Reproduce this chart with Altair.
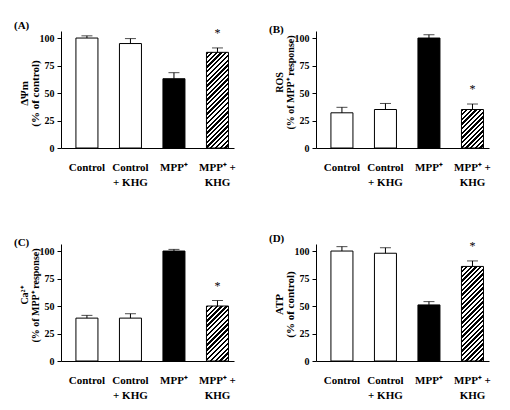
import altair as alt
import pandas as pd

# ---- data ----
categories = ["Control", "Control|+ KHG", "MPP\u207a", "MPP\u207a +|KHG"]
fills = ["white", "white", "black", "hatch"]
significant = [False, False, False, True]

A_mean = [100, 95, 63, 87]
A_sem = [2, 4.5, 5.5, 4]
B_mean = [32, 35, 100, 35]
B_sem = [5, 5.5, 3, 5]
C_mean = [39, 39, 100, 50]
C_sem = [2.5, 4, 1.5, 5]
D_mean = [100, 98, 51, 86]
D_sem = [4, 5, 3, 5]

panel_letters = ["(A)", "(B)", "(C)", "(D)"]
panel_titles = [
    ["\u0394\u03a8m", "(% of control)"],
    ["ROS", "(% of MPP\u207a response)"],
    ["Ca\u00b2\u207a", "(% of MPP\u207a response)"],
    ["ATP", "(% of control)"],
]
y_ticks = [0, 25, 50, 75, 100]

# ---- style ----
FONT = "Liberation Serif"
W, H = 173, 117
YMAX = 106.4
P_INNER, P_OUTER, ALIGN = 0.494, 0.235, 0.73
title_y = [62, 51, 51, 60]
title_size = [11, 10, 10, 11]


def hatch_gradient(value):
    step = W / (len(categories) - P_INNER + 2 * P_OUTER)
    bw = step * (1 - P_INNER)
    bh = max(value * H / YMAX, 1)
    s = (bw + bh) / (bw * bw + bh * bh)
    period = 3.3
    n = max(int(round((bw + bh) / (2 ** 0.5 * period))), 1)
    stops = []
    duty = 0.48
    for i in range(n):
        a = i / n
        b = (i + duty) / n
        c = (i + 1) / n
        stops += [
            alt.GradientStop(offset=a, color="black"),
            alt.GradientStop(offset=b, color="black"),
            alt.GradientStop(offset=b, color="white"),
            alt.GradientStop(offset=c, color="white"),
        ]
    return alt.LinearGradient(
        gradient="linear", x1=0, y1=0, x2=s * bw, y2=s * bh, stops=stops
    )


def panel(idx, means, sems):
    df = pd.DataFrame({
        "cat": categories,
        "mean": means,
        "upper": [m + s for m, s in zip(means, sems)],
        "fill": fills,
        "sig": significant,
    })
    base = alt.Chart(df).properties(
        width=W, height=H,
        title=alt.TitleParams(
            panel_letters[idx], anchor="start", dx=-47, offset=-4,
            font=FONT, fontSize=11, fontWeight="bold", color="black",
            frame="group",
        ),
    )
    x = alt.X(
        "cat:N", sort=categories,
        scale=alt.Scale(paddingInner=P_INNER, paddingOuter=P_OUTER, align=ALIGN),
        axis=alt.Axis(
            title=None, labelAngle=0, ticks=False, tickSize=0,
            labelExpr="split(datum.label, '|')",
            labelFont=FONT, labelFontSize=11, labelFontWeight="bold",
            labelColor="black", labelPadding=13, labelLineHeight=15,
            labelBaseline="top", domainColor="black", grid=False,
        ),
    )
    yscale = alt.Scale(domain=[0, YMAX], nice=False)
    yaxis = alt.Axis(
        values=y_ticks, title=panel_titles[idx], grid=False,
        labelOverlap=False,
        titleFont=FONT, titleFontSize=title_size[idx], titleFontWeight="bold",
        titleColor="black", titleX=-37, titleY=title_y[idx],
        titleAngle=-90, titleAlign="center", titleBaseline="middle",
        titleLineHeight=11,
        labelFont=FONT, labelFontSize=10, labelFontWeight="bold",
        labelColor="black", labelPadding=3, tickSize=4,
        tickColor="black", domainColor="black",
    )
    y_mean = alt.Y("mean:Q", scale=yscale, axis=yaxis)
    y_up = alt.Y("upper:Q", scale=yscale, axis=yaxis)

    plain = base.transform_filter("datum.fill != 'hatch'").mark_bar(
        stroke="black", strokeWidth=1
    ).encode(x=x, y=y_mean, fill=alt.Fill("fill:N", scale=None))
    hv = [m for m, f in zip(means, fills) if f == "hatch"][0]
    hatched = base.transform_filter("datum.fill == 'hatch'").mark_bar(
        stroke="black", strokeWidth=1, fill=hatch_gradient(hv)
    ).encode(x=x, y=y_mean)
    err = base.mark_rule(color="black", strokeWidth=1).encode(
        x=x, y=y_mean, y2="upper:Q"
    )
    cap = base.mark_tick(color="black", size=11, thickness=1, orient="horizontal").encode(
        x=x, y=y_up
    )
    star = base.transform_filter("datum.sig").mark_text(
        text="*", font=FONT, fontSize=12, fontWeight="normal", dy=-11,
        baseline="alphabetic", color="black",
    ).encode(x=x, y=y_up)
    return alt.layer(plain, hatched, err, cap, star)


chart = alt.concat(
    panel(0, A_mean, A_sem),
    panel(1, B_mean, B_sem),
    panel(2, C_mean, C_sem),
    panel(3, D_mean, D_sem),
    columns=2,
    spacing={"row": 96, "column": 82},
    bounds="flush",
).properties(
    padding={"left": 6, "top": 11, "right": 5, "bottom": 5},
    background="white",
).configure_view(stroke=None)

chart.save("out.html", embed_options={"renderer": "svg", "actions": False})
